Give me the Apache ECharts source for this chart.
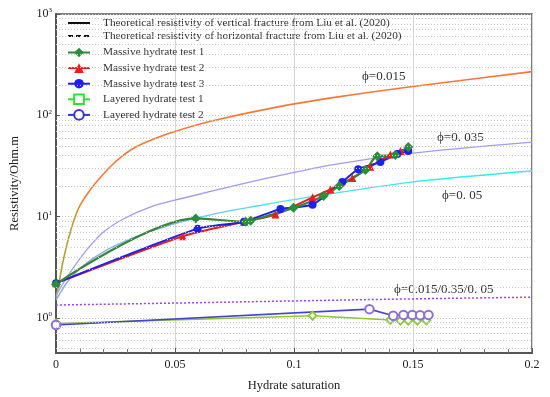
<!DOCTYPE html>
<html><head><meta charset="utf-8">
<script src="https://cdn.jsdelivr.net/npm/echarts@6/dist/echarts.min.js"></script>
<style>html,body{margin:0;padding:0;background:#fff}#c{width:550px;height:397px}</style>
</head><body><div id="c"></div>
<script>
// ---- theoretical curves ----
const phi015X = [0, 0.00126, 0.00252, 0.0042, 0.0063, 0.0084, 0.0105, 0.0147, 0.0189, 0.0231, 0.0273, 0.0314, 0.0356, 0.0419, 0.0503, 0.065, 0.0922, 0.12, 0.15, 0.2];
const phi015Y = [1.57, 2.2, 3.23, 4.86, 7.46, 10.5, 13.4, 18.8, 24.7, 31.6, 38.7, 45.4, 51.4, 59.5, 69.7, 87.3, 119.8, 153.6, 192.4, 270];
const phi035X = [0, 0.0063, 0.0134, 0.0201, 0.0285, 0.0398, 0.0524, 0.0818, 0.0922, 0.1153, 0.15, 0.2];
const phi035Y = [1.68, 2.89, 4.86, 7.1, 9.53, 12.5, 15.0, 22.0, 24.9, 32.2, 42.4, 54.4];
const phi05X = [0, 0.005, 0.0117, 0.0189, 0.026, 0.0356, 0.044, 0.0524, 0.0671, 0.0818, 0.0998, 0.15, 0.2];
const phi05Y = [1.5, 2.3, 3.31, 4.34, 5.31, 6.59, 7.7, 8.84, 10.7, 12.4, 14.7, 22.0, 28.2];
const horizX = [0, 0.05, 0.1, 0.15, 0.2];
const horizY = [1.34, 1.40, 1.47, 1.54, 1.6];
// ---- experiments ----
const m1X = [0, 0.0587, 0.0797, 0.0818, 0.0998, 0.1124, 0.119, 0.13, 0.135, 0.1426, 0.148];
const m1Y = [2.15, 9.6, 8.9, 9.1, 12.2, 16, 20, 28.9, 39.5, 40.5, 48.5];
const m2X = [0, 0.0532, 0.079, 0.0922, 0.1078, 0.1153, 0.1245, 0.132, 0.1405, 0.1447, 0.148];
const m2Y = [2.2, 6.4, 8.9, 10.5, 15.5, 18.5, 24, 31, 41, 44.5, 47];
const m3X = [0, 0.0595, 0.079, 0.0943, 0.1078, 0.1203, 0.127, 0.1363, 0.1434, 0.148];
const m3Y = [2.2, 7.6, 8.9, 11.9, 13.1, 22, 29.4, 34.5, 41.5, 44.5];
const l1X = [0, 0.1078, 0.1405, 0.1447, 0.148, 0.1518, 0.1556];
const l1Y = [0.88, 1.05, 0.955, 0.94, 0.94, 0.94, 0.945];
const l2X = [0, 0.1317, 0.1417, 0.146, 0.1497, 0.153, 0.1565];
const l2Y = [0.85, 1.22, 1.05, 1.07, 1.07, 1.06, 1.07];
// ---- axis ----
const xTicks = [0, 0.05, 0.1, 0.15, 0.2];
const yMin = 0.45, yMax = 1000;
const names = {
  vert: 'Theoretical resistivity of vertical fracture from Liu et al. (2020)',
  horz: 'Theoretical resistivity of horizontal fracture from Liu et al. (2020)',
  m1: 'Massive hydrate test 1', m2: 'Massive hydrate test 2', m3: 'Massive hydrate test 3',
  l1: 'Layered hydrate test 1', l2: 'Layered hydrate test 2'
};
const phiLabels = ['ϕ=0.015', 'ϕ=0. 035', 'ϕ=0. 05', 'ϕ=0.015/0.35/0. 05'];

const pair = (xs, ys) => xs.map((x, i) => [x, ys[i]]);
const SERIF = '"Liberation Serif","Times New Roman",serif';

// minor log grid values
const minorVals = [];
for (let k = -1; k <= 2; k++) for (let m = 2; m <= 9; m++) {
  const v = m * Math.pow(10, k);
  if (v > yMin && v < yMax) minorVals.push(v);
}

const chart = echarts.init(document.getElementById('c'), null, {renderer: 'canvas'});
const G = echarts.graphic;
const legText = {fontFamily: SERIF, fontSize: 11.3, color: '#333', lineHeight: 13, padding: [0, 0, 0, 8]};
const hidden = {color: 'rgba(0,0,0,0)', borderColor: 'rgba(0,0,0,0)', borderWidth: 0};
chart.setOption({
  backgroundColor: '#fff',
  animation: false,
  textStyle: {fontFamily: SERIF},
  grid: {left: 55, right: 18, top: 14, bottom: 42, show: true, borderColor: '#555', borderWidth: 1.5, containLabel: false},
  xAxis: {
    type: 'value', min: 0, max: 0.2, interval: 0.05,
    name: 'Hydrate saturation', nameLocation: 'middle', nameGap: 26,
    nameTextStyle: {fontFamily: SERIF, fontSize: 12.5, color: '#222'},
    axisLine: {lineStyle: {color: '#555', width: 2}},
    axisTick: {inside: true, length: 5, lineStyle: {color: '#555'}},
    minorTick: {show: true, splitNumber: 5, length: 4, lineStyle: {color: '#777'}},
    axisLabel: {fontFamily: SERIF, fontSize: 12, color: '#222', margin: 6,
      formatter: v => { const t = xTicks.find(a => Math.abs(a - v) < 1e-9); return t === undefined ? '' : String(t); }},
    splitLine: {show: true, lineStyle: {color: '#d4d4d4', width: 1}}
  },
  yAxis: {
    type: 'log', logBase: 10, min: yMin, max: yMax,
    name: 'Resistivity/Ohm.m', nameLocation: 'middle', nameGap: 35,
    nameTextStyle: {fontFamily: SERIF, fontSize: 12.5, color: '#222'},
    axisLine: {lineStyle: {color: '#555', width: 2}},
    axisTick: {inside: true, length: 4, lineStyle: {color: '#555'}},
    axisLabel: {
      fontFamily: SERIF, fontSize: 12, color: '#222', margin: 4,
      formatter: v => { const e = Math.log10(v); if (Math.abs(e - Math.round(e)) > 1e-6) return ''; return '10{s|' + Math.round(e) + '}'; },
      rich: {s: {fontSize: 7, fontFamily: SERIF, color: '#222', verticalAlign: 'top', padding: [0, 0, 7, 0]}}
    },
    splitLine: {show: true, lineStyle: {color: '#c4c4c4', type: [1, 2], width: 1}}
  },
  legend: [{
    orient: 'vertical', left: 67, top: 16.5, padding: 0, itemGap: 0, itemWidth: 22, itemHeight: 10,
    textStyle: legText,
    data: [{name: names.vert, itemStyle: hidden}, {name: names.horz, itemStyle: hidden}], selectedMode: false
  }, {
    orient: 'vertical', left: 67, top: 46, padding: 0, itemGap: 2.6, itemWidth: 22, itemHeight: 12,
    textStyle: legText,
    data: [names.m1, names.m2, names.m3, names.l1, names.l2], selectedMode: false
  }],
  graphic: [
    {type: 'text', x: 362, y: 77, style: {text: phiLabels[0], font: '13px ' + SERIF, fill: '#333', textVerticalAlign: 'middle'}},
    {type: 'text', x: 437, y: 138, style: {text: phiLabels[1], font: '13px ' + SERIF, fill: '#333', textVerticalAlign: 'middle'}},
    {type: 'text', x: 442, y: 196, style: {text: phiLabels[2], font: '13px ' + SERIF, fill: '#333', textVerticalAlign: 'middle'}},
    {type: 'text', x: 394, y: 290, style: {text: phiLabels[3], font: '13px ' + SERIF, fill: '#333', textVerticalAlign: 'middle'}}
  ],
  series: [
    {name: 'grid', type: 'line', data: [], silent: true,
      markLine: {silent: true, symbol: 'none', label: {show: false}, animation: false,
        lineStyle: {color: '#c8c8c8', type: [1, 2], width: 1},
        data: minorVals.map(v => ({yAxis: v}))}},
    {name: names.vert, type: 'line', data: [], symbol: 'none', itemStyle: hidden, lineStyle: {color: '#111', width: 1.5, type: 'solid'}},
    {name: names.horz, type: 'line', data: [], symbol: 'none', itemStyle: hidden, lineStyle: {color: '#111', width: 1.5, type: [5, 3]}},
    {name: 'phi015', type: 'line', data: pair(phi015X, phi015Y), symbol: 'none', smooth: 0.3,
      lineStyle: {width: 1.6, color: new G.LinearGradient(0, 0, 0, 1, [
        {offset: 0, color: '#f7773a'}, {offset: 0.55, color: '#f27a32'}, {offset: 0.63, color: '#c49a2c'}, {offset: 1, color: '#a8a534'}])}},
    {name: 'phi035', type: 'line', data: pair(phi035X, phi035Y), symbol: 'none', smooth: 0.3,
      lineStyle: {width: 1.3, color: '#9d9cee'}},
    {name: 'phi05', type: 'line', data: pair(phi05X, phi05Y), symbol: 'none', smooth: 0.3,
      lineStyle: {width: 1.4, color: new G.LinearGradient(0, 0, 1, 0, [
        {offset: 0, color: '#88a8f4'}, {offset: 0.25, color: '#7ab8f0'}, {offset: 0.45, color: '#4fe0ee'}, {offset: 1, color: '#30eee6'}])}},
    {name: 'horiz', type: 'line', data: pair(horizX, horizY), symbol: 'none', smooth: true,
      lineStyle: {width: 1.5, color: '#a040f0', type: [2, 2]}},
    {name: 'l1data', type: 'line', data: pair(l1X, l1Y), symbol: 'emptyDiamond', symbolSize: 8,
      color: '#90cc40', lineStyle: {width: 1.5, color: '#8ac83a'}, itemStyle: {color: '#90cc40', borderWidth: 1}},
    {name: 'l2data', type: 'line', data: pair(l2X, l2Y), symbol: 'emptyCircle', symbolSize: 8.5,
      color: '#8c70d8', lineStyle: {width: 1.6, color: '#4a44c8'}, itemStyle: {color: '#8c70d8', borderWidth: 1.2}},
    {name: names.m2, type: 'line', data: pair(m2X, m2Y), symbol: 'triangle', symbolSize: 8, smooth: 0.2,
      color: '#ee1c1c', lineStyle: {width: 2, color: '#dd2020'}, itemStyle: {color: '#ee1c1c'}},
    {name: names.m3, type: 'line', data: pair(m3X, m3Y), symbol: 'circle', symbolSize: 8, smooth: 0.2,
      color: '#1f1fee', lineStyle: {width: 2, color: '#2020e0'}, itemStyle: {color: '#1f1fee'}},
    {name: names.m1, type: 'line', data: pair(m1X, m1Y), symbol: 'diamond', symbolSize: 10, smooth: 0.3,
      color: '#2b8c3c', lineStyle: {width: 2.2, color: '#3a843a'}, itemStyle: {color: '#2b8c3c'}},
    {name: names.l1, type: 'line', data: [], symbol: 'emptyRect', symbolSize: 9, color: '#33dd33',
      lineStyle: {width: 1.5, color: '#33dd33'}, itemStyle: {color: '#33dd33'}},
    {name: names.l2, type: 'line', data: [], symbol: 'emptyCircle', symbolSize: 10, color: '#3636cc',
      lineStyle: {width: 1.5, color: '#3636cc'}, itemStyle: {color: '#3636cc'}}
  ]
});
</script></body></html>
